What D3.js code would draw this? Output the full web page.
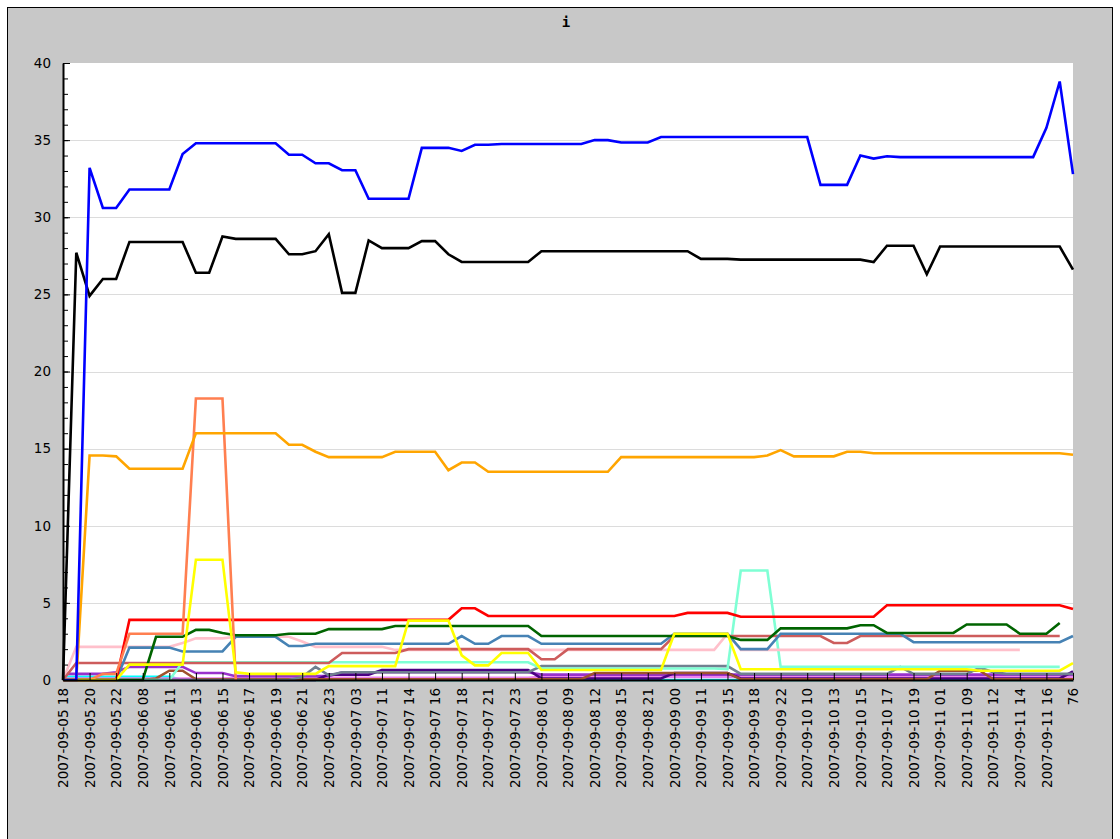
<!DOCTYPE html>
<html>
<head>
<meta charset="utf-8">
<title>i</title>
<script src="https://cdn.jsdelivr.net/npm/d3@7"></script>
<style>
  body { margin: 0; background: #fff; }
  svg { display: block; }
  .axis text { font-family: "DejaVu Sans", sans-serif; font-size: 13.5px; fill: #000; }
</style>
</head>
<body>
<svg id="chart" width="1120" height="839"></svg>
<script>
// x categories: one label every second sample
var tickLabels = [
  "2007-09-05 18", "2007-09-05 20", "2007-09-05 22", "2007-09-06 08", "2007-09-06 11",
  "2007-09-06 13", "2007-09-06 15", "2007-09-06 17", "2007-09-06 19", "2007-09-06 21",
  "2007-09-06 23", "2007-09-07 03", "2007-09-07 11", "2007-09-07 14", "2007-09-07 16",
  "2007-09-07 18", "2007-09-07 21", "2007-09-07 23", "2007-09-08 01", "2007-09-08 09",
  "2007-09-08 12", "2007-09-08 15", "2007-09-08 21", "2007-09-09 00", "2007-09-09 11",
  "2007-09-09 15", "2007-09-09 18", "2007-09-09 22", "2007-09-10 10", "2007-09-10 13",
  "2007-09-10 15", "2007-09-10 17", "2007-09-10 19", "2007-09-11 01", "2007-09-11 09",
  "2007-09-11 12", "2007-09-11 14", "2007-09-11 16", "76"
];
var yTicks = [0, 5, 10, 15, 20, 25, 30, 35, 40];

var blue = [0, 0, 33.2, 30.6, 30.6, 31.8, 31.8, 31.8, 31.8, 34.1,
  34.8, 34.8, 34.8, 34.8, 34.8, 34.8, 34.8, 34.05, 34.05, 33.5,
  33.5, 33.05, 33.05, 31.2, 31.2, 31.2, 31.2, 34.5, 34.5, 34.5,
  34.3, 34.7, 34.7, 34.75, 34.75, 34.75, 34.75, 34.75, 34.75, 34.75,
  35.0, 35.0, 34.85, 34.85, 34.85, 35.2, 35.2, 35.2, 35.2, 35.2,
  35.2, 35.2, 35.2, 35.2, 35.2, 35.2, 35.2, 32.1, 32.1, 32.1,
  34.0, 33.8, 33.95, 33.9, 33.9, 33.9, 33.9, 33.9, 33.9, 33.9,
  33.9, 33.9, 33.9, 33.9, 35.8, 38.8, 32.8];
var black = [0, 27.7, 24.9, 26.0, 26.0, 28.4, 28.4, 28.4, 28.4, 28.4,
  26.4, 26.4, 28.75, 28.6, 28.6, 28.6, 28.6, 27.6, 27.6, 27.8,
  28.9, 25.1, 25.1, 28.5, 28.0, 28.0, 28.0, 28.45, 28.45, 27.6,
  27.1, 27.1, 27.1, 27.1, 27.1, 27.1, 27.8, 27.8, 27.8, 27.8,
  27.8, 27.8, 27.8, 27.8, 27.8, 27.8, 27.8, 27.8, 27.3, 27.3,
  27.3, 27.25, 27.25, 27.25, 27.25, 27.25, 27.25, 27.25, 27.25, 27.25,
  27.25, 27.1, 28.15, 28.15, 28.15, 26.3, 28.1, 28.1, 28.1, 28.1,
  28.1, 28.1, 28.1, 28.1, 28.1, 28.1, 26.6];
var orange = [0, 0, 14.55, 14.55, 14.5, 13.7, 13.7, 13.7, 13.7, 13.7,
  16.0, 16.0, 16.0, 16.0, 16.0, 16.0, 16.0, 15.25, 15.25, 14.8,
  14.45, 14.45, 14.45, 14.45, 14.45, 14.8, 14.8, 14.8, 14.8, 13.6,
  14.1, 14.1, 13.5, 13.5, 13.5, 13.5, 13.5, 13.5, 13.5, 13.5,
  13.5, 13.5, 14.45, 14.45, 14.45, 14.45, 14.45, 14.45, 14.45, 14.45,
  14.45, 14.45, 14.45, 14.55, 14.9, 14.5, 14.5, 14.5, 14.5, 14.8,
  14.8, 14.7, 14.7, 14.7, 14.7, 14.7, 14.7, 14.7, 14.7, 14.7,
  14.7, 14.7, 14.7, 14.7, 14.7, 14.7, 14.6];
var coral = [0, 0, 0, 0.4, 0.4, 3.0, 3.0, 3.0, 3.0, 3.0,
  18.25, 18.25, 18.25, 0];
var yellow = [0, 0, 0, 0, 0, 1.0, 1.0, 1.0, 1.0, 1.0,
  7.8, 7.8, 7.8, 0.5, 0.4, 0.4, 0.4, 0.4, 0.4, 0.4,
  0.9, 0.9, 0.9, 0.9, 0.9, 0.9, 3.85, 3.85, 3.85, 3.85,
  1.6, 0.95, 0.95, 1.75, 1.75, 1.75, 0.65, 0.65, 0.65, 0.65,
  0.65, 0.65, 0.65, 0.65, 0.65, 0.65, 3.0, 3.0, 3.0, 3.0,
  3.0, 0.7, 0.7, 0.7, 0.7, 0.7, 0.7, 0.7, 0.7, 0.7,
  0.7, 0.7, 0.7, 0.7, 0.7, 0.7, 0.7, 0.7, 0.7, 0.6,
  0.6, 0.6, 0.6, 0.6, 0.6, 0.6, 1.1];
var red = [0, 0, 0, 0, 0, 3.9, 3.9, 3.9, 3.9, 3.9,
  3.9, 3.9, 3.9, 3.9, 3.9, 3.9, 3.9, 3.9, 3.9, 3.9,
  3.9, 3.9, 3.9, 3.9, 3.9, 3.9, 3.9, 3.9, 3.9, 3.9,
  4.65, 4.65, 4.15, 4.15, 4.15, 4.15, 4.15, 4.15, 4.15, 4.15,
  4.15, 4.15, 4.15, 4.15, 4.15, 4.15, 4.15, 4.35, 4.35, 4.35,
  4.35, 4.1, 4.1, 4.1, 4.1, 4.1, 4.1, 4.1, 4.1, 4.1,
  4.1, 4.1, 4.85, 4.85, 4.85, 4.85, 4.85, 4.85, 4.85, 4.85,
  4.85, 4.85, 4.85, 4.85, 4.85, 4.85, 4.6];
var green = [0, 0, 0, 0, 0, 0, 0, 2.8, 2.8, 2.8,
  3.25, 3.25, 3.05, 2.9, 2.9, 2.9, 2.9, 3.0, 3.0, 3.0,
  3.3, 3.3, 3.3, 3.3, 3.3, 3.5, 3.5, 3.5, 3.5, 3.5,
  3.5, 3.5, 3.5, 3.5, 3.5, 3.5, 2.85, 2.85, 2.85, 2.85,
  2.85, 2.85, 2.85, 2.85, 2.85, 2.85, 2.85, 2.85, 2.85, 2.85,
  2.85, 2.6, 2.6, 2.6, 3.35, 3.35, 3.35, 3.35, 3.35, 3.35,
  3.55, 3.55, 3.05, 3.05, 3.05, 3.05, 3.05, 3.05, 3.6, 3.6,
  3.6, 3.6, 3.0, 3.0, 3.0, 3.7];
var steelblue = [0, 0, 0, 0, 0, 2.1, 2.1, 2.1, 2.1, 1.85,
  1.85, 1.85, 1.85, 2.8, 2.8, 2.8, 2.8, 2.2, 2.2, 2.35,
  2.35, 2.35, 2.35, 2.35, 2.35, 2.35, 2.35, 2.35, 2.35, 2.35,
  2.85, 2.35, 2.35, 2.85, 2.85, 2.85, 2.35, 2.35, 2.35, 2.35,
  2.35, 2.35, 2.35, 2.35, 2.35, 2.35, 3.0, 3.0, 3.0, 3.0,
  3.0, 2.0, 2.0, 2.0, 3.0, 3.0, 3.0, 3.0, 3.0, 3.0,
  3.0, 3.0, 3.0, 3.0, 2.45, 2.45, 2.45, 2.45, 2.45, 2.45,
  2.45, 2.45, 2.45, 2.45, 2.45, 2.45, 2.85];
var indianred = [0, 1.1, 1.1, 1.1, 1.1, 1.1, 1.1, 1.1, 1.1, 1.1,
  1.1, 1.1, 1.1, 1.1, 1.1, 1.1, 1.1, 1.1, 1.1, 1.1,
  1.1, 1.75, 1.75, 1.75, 1.75, 1.75, 2.0, 2.0, 2.0, 2.0,
  2.0, 2.0, 2.0, 2.0, 2.0, 2.0, 1.35, 1.35, 2.0, 2.0,
  2.0, 2.0, 2.0, 2.0, 2.0, 2.0, 2.85, 2.85, 2.85, 2.85,
  2.85, 2.85, 2.85, 2.85, 2.85, 2.85, 2.85, 2.85, 2.4, 2.4,
  2.85, 2.85, 2.85, 2.85, 2.85, 2.85, 2.85, 2.85, 2.85, 2.85,
  2.85, 2.85, 2.85, 2.85, 2.85, 2.85];
var pink = [0, 2.15, 2.15, 2.15, 2.15, 2.15, 2.15, 2.15, 2.15, 2.4,
  2.7, 2.7, 2.7, 2.8, 2.8, 2.8, 2.8, 2.8, 2.5, 2.15,
  2.15, 2.15, 2.15, 2.15, 2.15, 1.95, 1.95, 1.95, 1.95, 1.95,
  1.95, 1.95, 1.95, 1.95, 1.95, 1.95, 1.95, 1.95, 1.95, 1.95,
  1.95, 1.95, 1.95, 1.95, 1.95, 1.95, 1.95, 1.95, 1.95, 1.95,
  3.0, 1.95, 1.95, 1.95, 1.95, 1.95, 1.95, 1.95, 1.95, 1.95,
  1.95, 1.95, 1.95, 1.95, 1.95, 1.95, 1.95, 1.95, 1.95, 1.95,
  1.95, 1.95, 1.95];
var aquamarine = [0, 0, 0, 0, 0, 0, 0, 0, 0, 1.15,
  1.15, 1.15, 1.15, 1.15, 1.15, 1.15, 1.15, 1.15, 1.15, 1.15,
  1.15, 1.15, 1.15, 1.15, 1.15, 1.15, 1.15, 1.15, 1.15, 1.15,
  1.15, 1.15, 1.15, 1.15, 1.15, 1.15, 0.75, 0.75, 0.75, 0.75,
  0.75, 0.75, 0.75, 0.75, 0.75, 0.75, 0.75, 0.75, 0.75, 0.75,
  0.7, 7.1, 7.1, 7.1, 0.85, 0.85, 0.85, 0.85, 0.85, 0.85,
  0.85, 0.85, 0.85, 0.85, 0.85, 0.85, 0.85, 0.85, 0.85, 0.85,
  0.85, 0.85, 0.85, 0.85, 0.85, 0.85];
var slategray = [0, 0, 0, 0, 0, 0, 0, 0, 0, 0,
  0, 0, 0, 0, 0, 0, 0, 0, 0.2, 0.85,
  0.3, 0.5, 0.5, 0.5, 0.5, 0.5, 0.5, 0.5, 0.5, 0.5,
  0.5, 0.5, 0.5, 0.5, 0.5, 0.5, 0.9, 0.9, 0.9, 0.9,
  0.9, 0.9, 0.9, 0.9, 0.9, 0.9, 0.9, 0.9, 0.9, 0.9,
  0.9, 0.4, 0.4, 0.4, 0.4, 0.4, 0.4, 0.4, 0.4, 0.4,
  0.4, 0.4, 0.4, 0.85, 0.4, 0.4, 0.4, 0.4, 0.4, 0.8,
  0.5, 0.4, 0.4, 0.4, 0.4, 0.4, 0.4];
var darkorchid = [0.4, 0.4, 0.4, 0.4, 0.5, 0.85, 0.85, 0.85, 0.85, 0.85,
  0.45, 0.45, 0.45, 0.25, 0.25, 0.25, 0.25, 0.25, 0.25, 0.25,
  0.25, 0.5, 0.5, 0.5, 0.5, 0.5, 0.5, 0.5, 0.5, 0.5,
  0.5, 0.5, 0.5, 0.5, 0.5, 0.5, 0.35, 0.35, 0.35, 0.35,
  0.35, 0.35, 0.35, 0.35, 0.35, 0.35, 0.35, 0.35, 0.35, 0.35,
  0.35, 0.35, 0.35, 0.35, 0.35, 0.35, 0.35, 0.35, 0.35, 0.35,
  0.35, 0.35, 0.35, 0.35, 0.35, 0.35, 0.35, 0.35, 0.35, 0.35,
  0.35, 0.35, 0.35, 0.35, 0.35, 0.35, 0.35];
var violet = [0.1, 0.1, 0.1, 0.1, 0.1, 0.1, 0.1, 0.1, 0.1, 0.1,
  0.1, 0.1, 0.1, 0.15, 0.15, 0.15, 0.15, 0.15, 0.15, 0.15,
  0.15, 0.15, 0.15, 0.15, 0.15, 0.15, 0.15, 0.15, 0.15, 0.15,
  0.15, 0.15, 0.15, 0.15, 0.15, 0.15, 0.2, 0.2, 0.2, 0.2,
  0.2, 0.2, 0.2, 0.2, 0.2, 0.2, 0.2, 0.2, 0.2, 0.2,
  0.2, 0.2, 0.2, 0.2, 0.2, 0.2, 0.2, 0.2, 0.2, 0.2,
  0.2, 0.2, 0.2, 0.2, 0.2, 0.2, 0.2, 0.2, 0.2, 0.2,
  0.2, 0.2, 0.2, 0.2, 0.2, 0.2, 0.2];
var indigo = [0, 0, 0, 0, 0, 0, 0, 0, 0, 0,
  0, 0, 0, 0, 0, 0, 0, 0, 0, 0,
  0.35, 0.35, 0.35, 0.35, 0.65, 0.65, 0.65, 0.65, 0.65, 0.65,
  0.65, 0.65, 0.65, 0.65, 0.65, 0.65, 0.1, 0.1, 0.1, 0.1,
  0.1, 0.1, 0.1, 0.1, 0.1, 0.1, 0.45, 0.45, 0.45, 0.45,
  0.45, 0.1, 0.1, 0.1, 0.1, 0.1, 0.1, 0.1, 0.1, 0.1,
  0.1, 0.1, 0.1, 0.1, 0.1, 0.1, 0.1, 0.1, 0.1, 0.1,
  0.1, 0.1, 0.1, 0.1, 0.1, 0.1, 0.55];
var cyan = [0.2, 0.2, 0.2, 0.2, 0.2, 0.2, 0.2, 0.2, 0.2, 0,
  0, 0, 0, 0, 0, 0, 0, 0, 0, 0,
  0, 0, 0, 0, 0, 0, 0, 0, 0, 0,
  0, 0, 0, 0, 0, 0, 0, 0, 0, 0,
  0, 0, 0, 0, 0, 0, 0, 0, 0, 0,
  0, 0, 0, 0, 0, 0, 0, 0, 0, 0.2,
  0.2, 0.2, 0.2, 0.2, 0, 0, 0, 0, 0, 0,
  0, 0, 0, 0, 0, 0, 0];
var brown = [0, 0, 0, 0, 0, 0, 0, 0.1, 0.6, 0.6,
  0.05, 0.05, 0.05, 0.05, 0.05, 0.05, 0.05, 0.05, 0.05, 0.05,
  0.05, 0.05, 0.05, 0.05, 0.05, 0.05, 0.05, 0.05, 0.05, 0.05,
  0.05, 0.05, 0.05, 0.05, 0.05, 0.05, 0.05, 0.05, 0.05, 0.05,
  0.45, 0.45, 0.45, 0.45, 0.45, 0.45, 0.45, 0.45, 0.45, 0.45,
  0.45, 0.05, 0.05, 0.05, 0.05, 0.05, 0.05, 0.05, 0.05, 0.05,
  0.05, 0.05, 0.05, 0.05, 0.05, 0.05, 0.6, 0.6, 0.6, 0.6,
  0.05, 0.05, 0.05, 0.05, 0.05, 0.05, 0.05];

// drawing order: first drawn ends up underneath
var series = [
  { color: "#00ffff", values: cyan },
  { color: "#ee82ee", values: violet },
  { color: "#9932cc", values: darkorchid },
  { color: "#4b0082", values: indigo },
  { color: "#a0522d", values: brown },
  { color: "#708090", values: slategray },
  { color: "#7fffd4", values: aquamarine },
  { color: "#ffc0cb", values: pink },
  { color: "#cd5c5c", values: indianred },
  { color: "#4682b4", values: steelblue },
  { color: "#006400", values: green },
  { color: "#ff0000", values: red },
  { color: "#ff7f50", values: coral },
  { color: "#ffff00", values: yellow },
  { color: "#ffa500", values: orange },
  { color: "#000000", values: black },
  { color: "#0000ff", values: blue }
];

var plotLeft = 63, plotRight = 1073, plotTop = 63, plotBottom = 680;
var svg = d3.select("#chart");

svg.append("rect")
  .attr("x", 7.5).attr("y", 7.5)
  .attr("width", 1105).attr("height", 845)
  .attr("fill", "#c8c8c8").attr("stroke", "#000");

svg.append("text")
  .attr("x", 566).attr("y", 27)
  .attr("text-anchor", "middle")
  .style("font-family", "DejaVu Sans Mono, monospace")
  .style("font-weight", "bold")
  .style("font-size", "14px")
  .text("i");

var x = d3.scaleLinear().domain([0, 76]).range([plotLeft, plotRight]);
var y = d3.scaleLinear().domain([0, 40]).range([plotBottom, plotTop]);

svg.append("rect")
  .attr("x", plotLeft).attr("y", plotTop)
  .attr("width", plotRight - plotLeft).attr("height", plotBottom - plotTop)
  .attr("fill", "#fff");

svg.append("g").selectAll("line")
  .data(yTicks.filter(function (d) { return d > 0 && d < 40; }))
  .join("line")
  .attr("x1", plotLeft).attr("x2", plotRight)
  .attr("y1", function (d) { return Math.round(y(d)) + 0.5; })
  .attr("y2", function (d) { return Math.round(y(d)) + 0.5; })
  .attr("stroke", "#dcdcdc");

var line = d3.line()
  .defined(function (d) { return d != null; })
  .x(function (d, i) { return x(i); })
  .y(function (d) { return y(d); });

svg.append("g").selectAll("path")
  .data(series)
  .join("path")
  .attr("d", function (s) { return line(s.values); })
  .attr("fill", "none")
  .attr("stroke", function (s) { return s.color; })
  .attr("stroke-width", 2.6);

// minor y ticks (every unit)
var yMinor = svg.append("g").attr("class", "axis")
  .attr("transform", "translate(" + plotLeft + ",0)")
  .call(d3.axisLeft(y).ticks(40).tickSize(-5).tickFormat(""));
yMinor.select(".domain").remove();

var yAxis = svg.append("g").attr("class", "axis")
  .attr("transform", "translate(" + plotLeft + ",0)")
  .call(d3.axisLeft(y).tickValues(yTicks).tickSize(-7).tickSizeOuter(0).tickPadding(12));
yAxis.select(".domain").attr("stroke-width", 2);

var xAxis = svg.append("g").attr("class", "axis")
  .attr("transform", "translate(0," + plotBottom + ")")
  .call(d3.axisBottom(x)
    .tickValues(d3.range(0, 77, 2))
    .tickSize(-7).tickSizeOuter(0)
    .tickFormat(function (d) { return tickLabels[d / 2]; }));
xAxis.select(".domain").attr("stroke-width", 2);
xAxis.selectAll("text")
  .attr("transform", "rotate(-90)")
  .attr("x", -8).attr("y", 0).attr("dy", "0.35em")
  .style("text-anchor", "end");
</script>
</body>
</html>
